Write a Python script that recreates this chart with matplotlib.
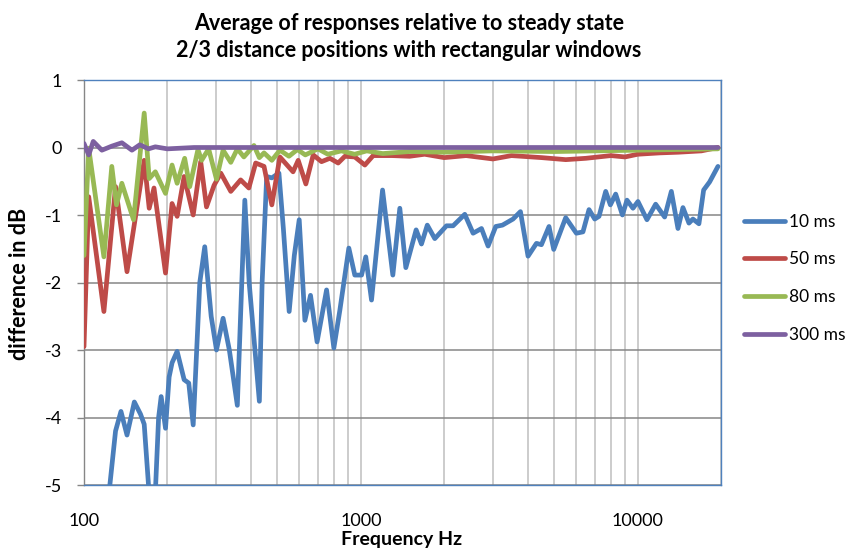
import numpy as np
import matplotlib
matplotlib.use("Agg")
import matplotlib.pyplot as plt
from matplotlib.ticker import FixedLocator, NullFormatter

plt.rcParams['font.family'] = ['Lato', 'DejaVu Sans']
plt.rcParams['axes.unicode_minus'] = False

# values (Hz, dB)
f_10 = [112, 124, 130, 136, 143, 152, 160, 165, 171, 176, 181.5, 186, 190, 197,
        203, 208, 217, 230, 239, 248, 254, 262, 273, 288, 301, 318, 335, 358,
        370, 381, 395, 430, 440, 457, 477, 506, 525, 551, 575, 599, 628, 658,
        695, 752, 799, 840, 905, 951, 1006, 1042, 1093, 1198, 1305, 1383, 1454,
        1584, 1656, 1738, 1850, 2039, 2154, 2374, 2544, 2728, 2882, 3072, 3248,
        3546, 3772, 4018, 4309, 4491, 4784, 4975, 5496, 6006, 6344, 6672, 6997,
        7251, 7665, 7969, 8329, 8808, 9150, 9616, 10025, 10804, 11614, 12516,
        13234, 13982, 14574, 15320, 15834, 16645, 17310, 18194, 19500]
db_10 = [-6.5, -5.0, -4.2, -3.91, -4.26, -3.77, -3.95, -4.1, -5.0, -5.8, -5.0, -4.0,
         -3.69, -4.16, -3.4, -3.19, -3.02, -3.44, -3.49, -4.11, -3.2, -2.0, -1.47,
         -2.5, -3.0, -2.53, -3.0, -3.82, -2.2, -0.78, -2.0, -3.76, -2.0, -0.43,
         -0.45, -0.38, -1.2, -2.43, -1.6, -1.07, -2.56, -2.19, -2.88, -2.11, -2.97,
         -2.41, -1.49, -1.89, -1.89, -1.62, -2.26, -0.63, -1.89, -0.9, -1.78,
         -1.22, -1.43, -1.15, -1.35, -1.16, -1.16, -0.99, -1.27, -1.2, -1.46,
         -1.17, -1.15, -1.06, -0.95, -1.61, -1.42, -1.44, -1.17, -1.51, -1.04,
         -1.27, -1.25, -0.92, -1.06, -1.02, -0.65, -0.85, -0.69, -1.0, -0.78,
         -0.9, -0.8, -1.07, -0.84, -1.03, -0.65, -1.2, -0.89, -1.12, -1.06,
         -1.13, -0.63, -0.51, -0.28]

f_50 = [100, 104, 118, 130, 143, 165, 172, 179, 197, 208, 217, 230, 248, 264, 277,
        295, 312, 339, 368, 394, 417, 447, 477, 510, 569, 594, 633, 673, 721, 773,
        828, 876, 951, 1034, 1108, 1300, 1500, 1700, 2000, 2400, 3000, 3500, 4500,
        5500, 6500, 8000, 9000, 10000, 12000, 14000, 17000, 19500]
db_50 = [-2.95, -0.73, -2.43, -0.58, -1.84, -0.19, -0.9, -0.6, -1.86, -0.83, -1.02,
         -0.43, -1.0, -0.21, -0.88, -0.56, -0.38, -0.65, -0.48, -0.6, -0.23, -0.28,
         -0.85, -0.14, -0.36, -0.19, -0.54, -0.11, -0.21, -0.16, -0.23, -0.13,
         -0.14, -0.26, -0.12, -0.12, -0.13, -0.1, -0.15, -0.12, -0.17, -0.12,
         -0.15, -0.18, -0.16, -0.12, -0.14, -0.1, -0.08, -0.07, -0.05, 0.0]

f_80 = [100, 104, 118, 126, 131, 137, 151, 165, 172, 181, 197, 208, 217, 231, 241,
        258, 266, 282, 301, 318, 339, 358, 378, 411, 430, 447, 477, 510, 550, 590,
        630, 700, 760, 850, 950, 1050, 1200, 1500, 2000, 3000, 5000, 10000, 19500]
db_80 = [-1.6, -0.01, -1.62, -0.28, -0.85, -0.53, -1.07, 0.51, -0.46, -0.36, -0.68,
         -0.26, -0.53, -0.16, -0.58, -0.03, -0.19, -0.02, -0.47, -0.04, -0.22,
         -0.02, -0.14, 0.03, -0.15, -0.08, -0.19, -0.04, -0.13, -0.03, -0.11,
         -0.02, -0.1, -0.05, -0.1, -0.05, -0.09, -0.06, -0.07, -0.05, -0.06,
         -0.04, -0.02]

f_300 = [100, 104, 108, 116, 126, 137, 149, 159, 171, 181, 200, 250, 19500]
db_300 = [0.06, -0.11, 0.09, -0.04, 0.02, 0.07, -0.04, 0.04, -0.02, 0.01, -0.02,
          0.0, 0.0]

labels = ["10 ms", "50 ms", "80 ms", "300 ms"]
colors = ["#4A7EBB", "#BE4B48", "#98B954", "#7D60A0"]

fig = plt.figure(figsize=(8.46, 5.48), dpi=100)
ax = fig.add_axes([84 / 846, 63 / 548, 637 / 846, 405 / 548])

series = [(f_10, db_10), (f_50, db_50), (f_80, db_80), (f_300, db_300)]
for i, (f, d) in enumerate(series):
    ax.plot(f, d, color=colors[i], lw=3.4, label=labels[i],
            solid_capstyle='round', solid_joinstyle='round', zorder=3 + i)

ax.set_xscale('log')
ax.set_xlim(100, 20000)
ax.set_ylim(-5, 1)
ax.set_yticks(np.arange(-5, 2, 1))

ax.xaxis.set_major_locator(FixedLocator([100, 1000, 10000]))
ax.xaxis.set_minor_locator(FixedLocator(
    [m * 10 ** e for e in (2, 3) for m in range(2, 10)] + [20000]))
ax.xaxis.set_minor_formatter(NullFormatter())
ax.set_xticklabels(["100", "1000", "10000"])

ax.grid(axis='y', which='major', color='#868686', lw=1.1, zorder=1)
ax.grid(axis='x', which='both', color='#BFBFBF', lw=1.1, zorder=1)

ax.tick_params(axis='x', which='both', length=0, pad=20, labelsize=13)
ax.tick_params(axis='y', length=5, width=1, color='#868686', pad=11, labelsize=13)

for s in ('top', 'right', 'bottom'):
    ax.spines[s].set_color('#4F81BD')
    ax.spines[s].set_linewidth(1.0)
ax.spines['left'].set_color('#868686')
ax.spines['left'].set_linewidth(1.0)

fig.text(402 / 846, 1 - 539 / 548, "Frequency Hz", ha='center', va='center',
         fontsize=14, fontweight='bold')
fig.text(19 / 846, 1 - 284 / 548, "difference in dB", ha='center', va='center',
         rotation=90, fontsize=15.5, fontweight='bold')

fig.text(409 / 846, 1 - 37 / 548,
         "Average of responses relative to steady state\n2/3 distance positions with rectangular windows",
         ha='center', va='center', fontsize=15.5, fontweight='bold', linespacing=1.35)

fig.legend(loc='upper left', bbox_to_anchor=(728 / 846, 1 - 198 / 548),
           frameon=False, fontsize=12.5, handlelength=2.4, labelspacing=1.25,
           handletextpad=0.2)

fig.savefig("out.png", dpi=100)
